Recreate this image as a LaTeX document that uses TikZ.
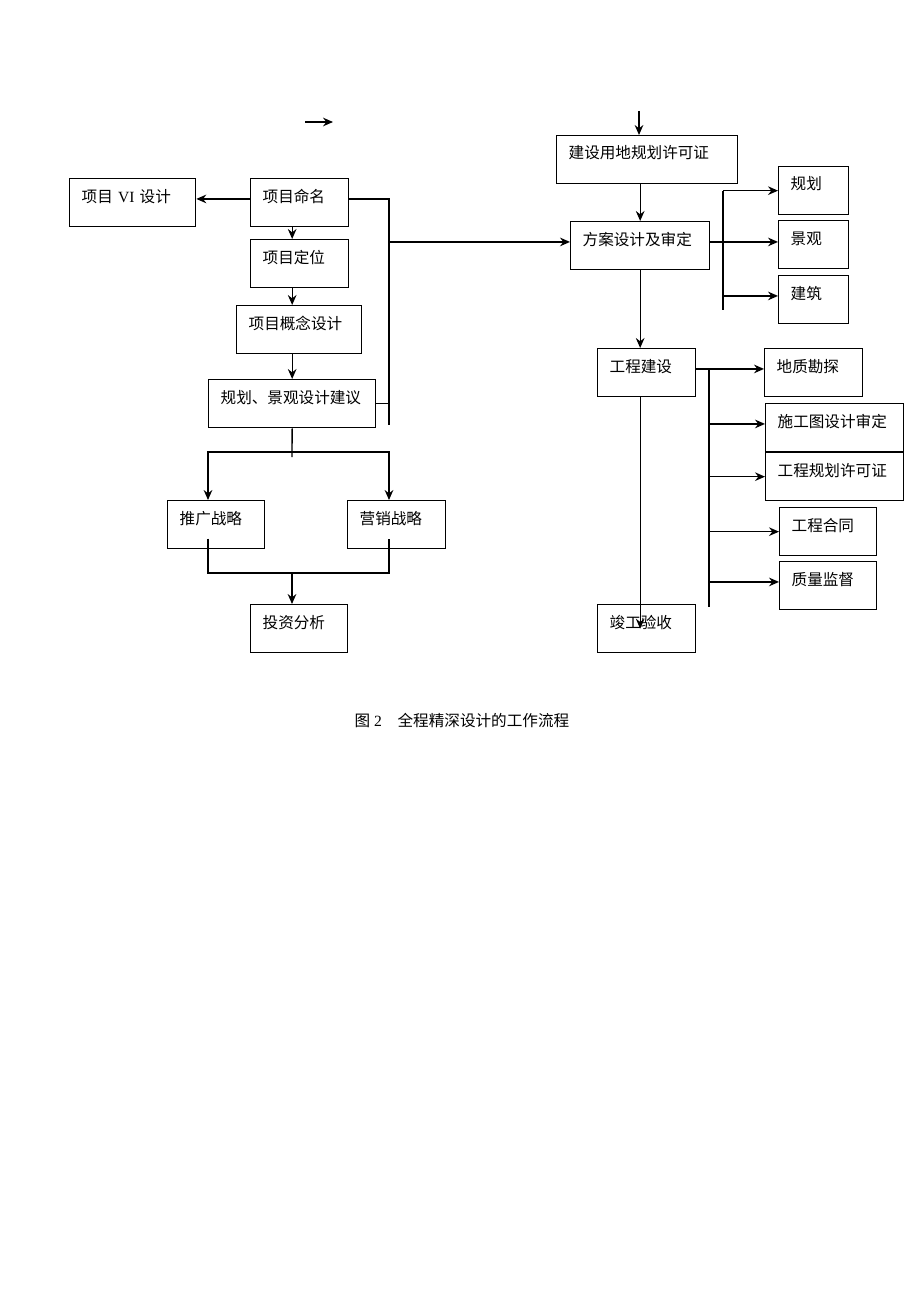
\documentclass[tikz,border=0pt]{standalone}
\usepackage{fontspec}
\setmainfont{Liberation Serif}
\newfontfamily\cjk{Noto Sans CJK SC}
\usetikzlibrary{arrows.meta}

\begin{document}
\begin{tikzpicture}[
        x=0.75pt, y=-0.75pt,
        main_node/.style={rectangle, draw=black, line width=1pt, anchor=north west, align=left, text width=#1, inner xsep=9pt, inner ysep=0pt, text height=17.5pt, text depth=18.5pt, font=\cjk\fontsize{11.7}{14}\selectfont},
        flow_line/.style={black, line width=1pt},
        flow_arrow/.style={black, line width=1pt, -{Stealth[length=7.5pt, width=6.5pt, inset=2.5pt]}},
        ]
            \useasboundingbox (0,0) rectangle (920,1302);

            % left column
            \node[main_node=76.5pt]    (plan_vi)  at (69,178)     {项目 {\rmfamily VI} 设计};
            \node[main_node=55.5pt]    (plan_1)   at (250,178)    {项目命名};
            \node[main_node=55.5pt]    (plan_2)   at (250,239)    {项目定位};
            \node[main_node=75.75pt]   (plan_3)   at (236,305)    {项目概念设计};
            \node[main_node=107.25pt]  (plan_4)   at (208,379)    {规划、景观设计建议};
            \node[main_node=54.75pt]   (plan_5)   at (167,500)    {推广战略};
            \node[main_node=55.5pt]    (plan_6)   at (347,500)    {营销战略};
            \node[main_node=54.75pt]   (plan_7)   at (250,604)    {投资分析};
            % right column
            \node[main_node=117.75pt]  (build_1)  at (556,135)    {建设用地规划许可证};
            \node[main_node=86.25pt]   (build_2)  at (570,221)    {方案设计及审定};
            \node[main_node=55.5pt]    (build_3)  at (597,348)    {工程建设};
            \node[main_node=55.5pt]    (build_4)  at (597,604)    {竣工验收};
            % sub items
            \node[main_node=34.5pt]    (sub_1)    at (778,166)    {规划};
            \node[main_node=34.5pt]    (sub_2)    at (778,220)    {景观};
            \node[main_node=34.5pt]    (sub_3)    at (778,275)    {建筑};
            \node[main_node=55.5pt]    (sub_4)    at (764,348)    {地质勘探};
            \node[main_node=85.5pt]    (sub_5)    at (765,403)    {施工图设计审定};
            \node[main_node=85.5pt]    (sub_6)    at (765,452)    {工程规划许可证};
            \node[main_node=54.75pt]   (sub_7)    at (779,507)    {工程合同};
            \node[main_node=54.75pt]   (sub_8)    at (779,561)    {质量监督};

            % caption
            \node[anchor=west, font=\fontsize{11.7}{14}\selectfont] (caption) at (350,721) {{\cjk 图} 2\quad{\cjk 全程精深设计的工作流程}};

            % helper points
            \coordinate (lone_a)   at (305,122);
            \coordinate (lone_b)   at (333,122);
            \coordinate (bus_1)    at (389,425);
            \coordinate (split_m)  at (292,452);
            \coordinate (split_c)  at (292,457);
            \coordinate (split_l)  at (208,452);
            \coordinate (split_r)  at (389,452);
            \coordinate (merge_m)  at (292,573);
            \coordinate (in_top)   at (639,111);
            \coordinate (fan_a)    at (723,310);
            \coordinate (fan_b)    at (709,607);

            % Lines
            \draw[flow_arrow] (lone_a) -- (lone_b);
            \draw[flow_arrow] (plan_1.mid west) -- (plan_vi.mid east);
            \draw[flow_arrow] (plan_1.south -| plan_4.south) -- (plan_2.north -| plan_4.south);
            \draw[flow_arrow] (plan_2.south -| plan_4.south) -- (plan_3.north -| plan_4.south);
            \draw[flow_arrow] (plan_3.south -| plan_4.south) -- (plan_4.north);
            \draw[flow_line]  (plan_1.mid east) -| (bus_1);
            \draw[flow_line]  (plan_4.east) -- (plan_4.east -| bus_1);
            \draw[flow_arrow] (bus_1 |- build_2.mid west) -- (build_2.mid west);
            \draw[flow_line]  (plan_4.south) -- (split_c);
            \draw[flow_arrow] (split_m) -| (split_l |- plan_5.north);
            \draw[flow_arrow] (split_m) -| (split_r |- plan_6.north);
            \draw[flow_line]  ([yshift=8pt]plan_5.south -| split_l) |- (merge_m) -| ([yshift=8pt]plan_6.south -| split_r);
            \draw[flow_arrow] (merge_m) -- (merge_m |- plan_7.north);

            % right flow
            \draw[flow_arrow] (in_top) -- (in_top |- build_1.north);
            \draw[flow_arrow] (build_1.south -| build_2.north) -- (build_2.north);
            \draw[flow_arrow] (build_2.south) -- (build_3.north -| build_2.south);
            \draw[flow_arrow] (build_3.south -| build_2.south) -- (build_4.center -| build_2.south);

            % branches
            \draw[flow_line]  (sub_1.west -| fan_a) -- (fan_a);
            \draw[flow_arrow] (sub_1.west -| fan_a) -- (sub_1.west);
            \draw[flow_arrow] (build_2.mid east) -- (build_2.mid east -| sub_2.west);
            \draw[flow_arrow] (sub_3.mid west -| fan_a) -- (sub_3.mid west);
            \draw[flow_line]  (build_3.mid east -| fan_b) -- (fan_b);
            \draw[flow_arrow] (build_3.mid east) -- (build_3.mid east -| sub_4.west);
            \draw[flow_arrow] (sub_5.mid west -| fan_b) -- (sub_5.mid west);
            \draw[flow_arrow] (sub_6.west -| fan_b) -- (sub_6.west);
            \draw[flow_arrow] (sub_7.west -| fan_b) -- (sub_7.west);
            \draw[flow_arrow] (sub_8.mid west -| fan_b) -- (sub_8.mid west);

        \end{tikzpicture}
\end{document}
